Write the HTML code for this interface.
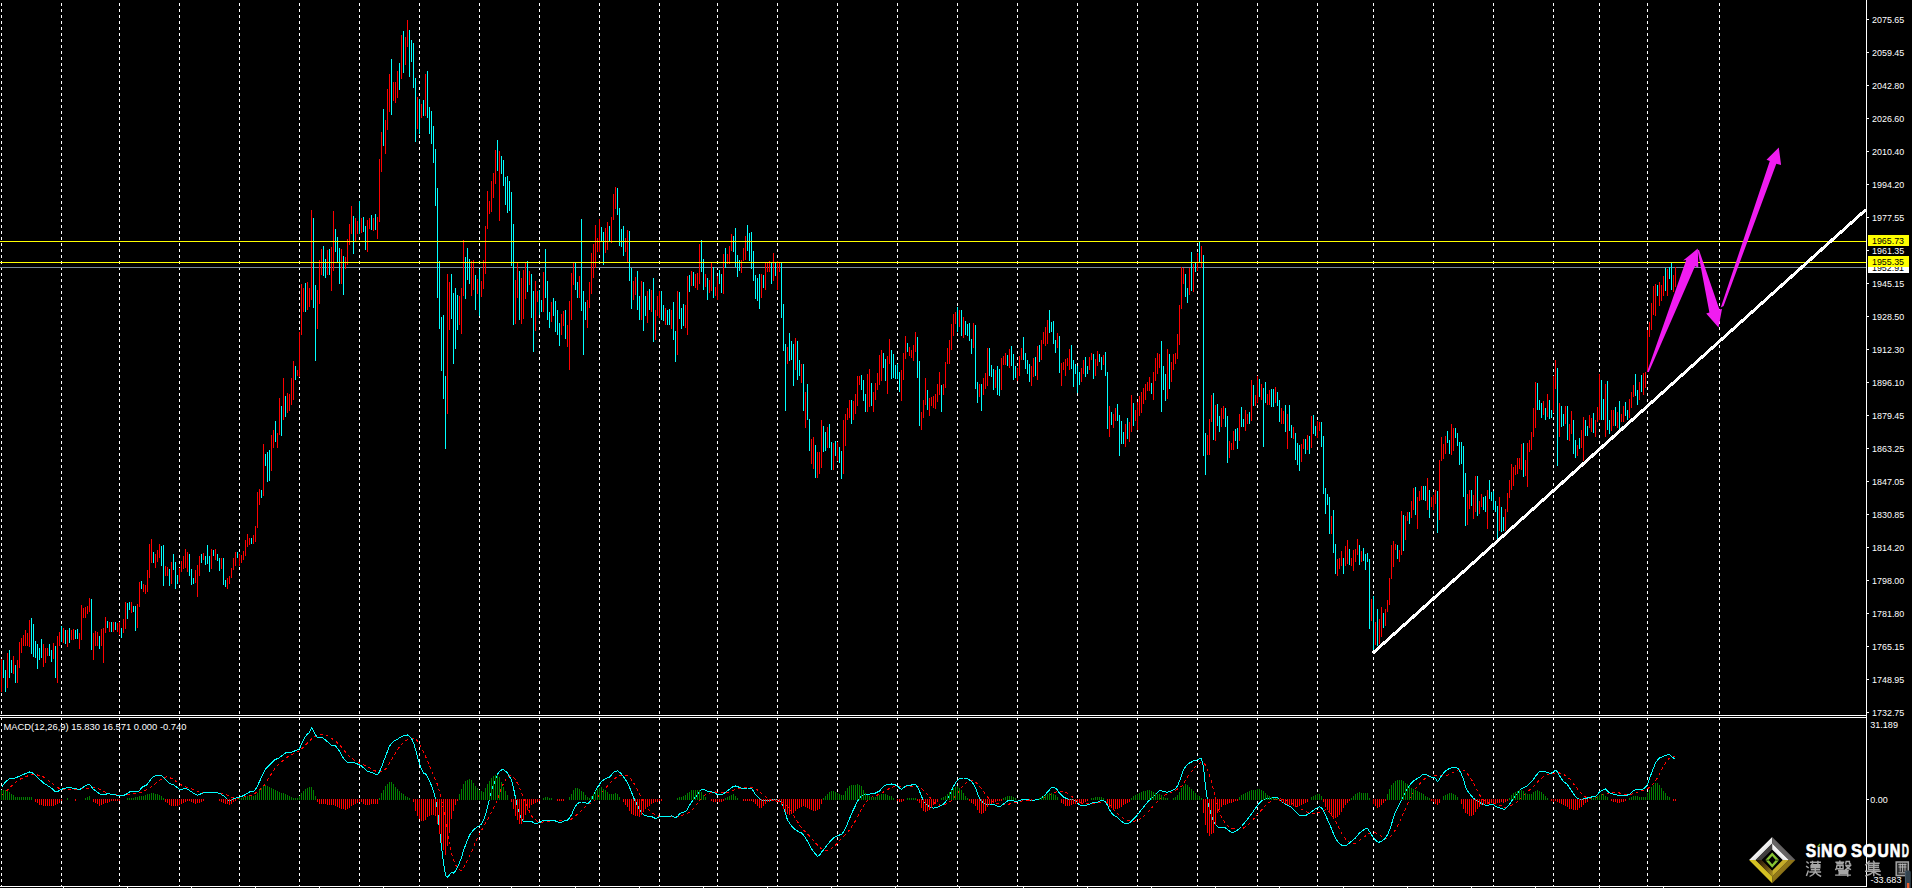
<!DOCTYPE html><html><head><meta charset="utf-8"><title>chart</title><style>
html,body{margin:0;padding:0;background:#000;}body{width:1914px;height:888px;overflow:hidden;font-family:"Liberation Sans",sans-serif;}svg{display:block}text{font-family:"Liberation Sans",sans-serif;}
</style></head><body>
<svg width="1914" height="888" viewBox="0 0 1914 888">
<rect width="1914" height="888" fill="#000"/>
<g shape-rendering="crispEdges" fill="none">
<path d="M1.5 3V886M61.5 3V886M119.5 3V886M179.5 3V886M239.5 3V886M299.5 3V886M359.5 3V886M419.5 3V886M479.5 3V886M539.5 3V886M599.5 3V886M659.5 3V886M717.5 3V886M777.5 3V886M837.5 3V886M897.5 3V886M957.5 3V886M1017.5 3V886M1077.5 3V886M1137.5 3V886M1197.5 3V886M1257.5 3V886M1317.5 3V886M1373.5 3V886M1433.5 3V886M1493.5 3V886M1553.5 3V886M1599.5 3V886M1647.5 3V886M1719.5 3V886" stroke="#ffffff" stroke-width="1" stroke-dasharray="3 3"/>
</g>
<rect x="0" y="267" width="1867" height="1" fill="#7a8a9a" shape-rendering="crispEdges"/>
<g shape-rendering="crispEdges" fill="none" stroke-width="1">
<path d="M1.5 659V692M7.5 653V688M13.5 656V674M17.5 660V683M19.5 642V668M21.5 638V653M23.5 635V646M25.5 630V646M27.5 633V646M29.5 620V647M43.5 644V667M45.5 648V663M47.5 648V656M53.5 643V659M57.5 636V683M59.5 632V646M63.5 628V643M67.5 630V647M71.5 630V640M73.5 629V640M79.5 633V649M81.5 605V640M83.5 608V618M85.5 607V618M87.5 606V614M89.5 598V612M93.5 633V660M95.5 631V646M97.5 632V646M101.5 629V646M103.5 628V663M105.5 617V633M109.5 622V632M113.5 622V632M117.5 623V632M119.5 622V635M123.5 619V633M125.5 602V629M131.5 602V613M137.5 604V628M139.5 582V607M143.5 584V592M145.5 585V594M147.5 570V592M149.5 544V578M151.5 539V563M155.5 554V568M157.5 550V562M159.5 544V558M165.5 566V576M167.5 567V576M171.5 562V584M179.5 568V582M181.5 561V572M183.5 556V569M185.5 549V568M187.5 552V572M195.5 570V583M197.5 565V597M199.5 556V576M203.5 553V560M211.5 549V569M215.5 549V560M221.5 558V569M227.5 578V589M229.5 576V584M231.5 568V578M233.5 558V570M235.5 552V566M239.5 554V566M241.5 555V563M243.5 551V560M245.5 540V556M247.5 534V547M249.5 538V545M253.5 535V544M255.5 526V542M257.5 492V528M259.5 489V505M263.5 444V496M271.5 435V471M273.5 430V448M277.5 433V448M279.5 398V435M283.5 378V420M287.5 393V413M289.5 394V411M291.5 378V405M293.5 361V400M297.5 370V376M299.5 332V377M301.5 284V335M303.5 288V312M307.5 282V310M309.5 288V307M311.5 210V300M317.5 290V329M319.5 260V304M321.5 249V275M327.5 250V275M331.5 247V291M333.5 211V271M341.5 249V284M345.5 257V269M347.5 239V265M349.5 224V245M351.5 206V234M355.5 218V241M357.5 221V234M361.5 218V233M367.5 220V252M369.5 218V229M373.5 218V231M377.5 217V239M379.5 159V222M381.5 132V172M385.5 120V154M387.5 89V130M389.5 74V112M393.5 82V101M395.5 82V103M397.5 71V98M401.5 35V79M405.5 37V65M407.5 20V47M417.5 97V129M421.5 104V118M425.5 74V116M447.5 274V414M449.5 282V330M459.5 296V325M461.5 288V334M463.5 240V296M471.5 261V296M473.5 260V290M477.5 279V294M481.5 281V297M483.5 260V289M485.5 226V274M487.5 191V229M489.5 201V214M491.5 181V212M493.5 173V198M495.5 150V184M499.5 151V221M515.5 280V324M517.5 263V298M521.5 278V324M523.5 270V319M525.5 263V299M529.5 271V285M535.5 281V331M537.5 291V302M543.5 272V312M551.5 302V322M561.5 314V335M563.5 311V326M567.5 325V347M569.5 301V370M571.5 273V320M573.5 263V285M579.5 276V298M587.5 300V328M589.5 282V308M591.5 253V294M593.5 244V278M595.5 225V268M597.5 238V252M599.5 219V252M605.5 228V253M607.5 222V250M611.5 217V243M613.5 194V220M615.5 187V209M625.5 238V252M627.5 230V262M633.5 281V300M635.5 277V295M641.5 281V320M647.5 291V323M651.5 290V312M655.5 310V340M657.5 296V316M659.5 291V318M665.5 308V325M671.5 310V329M677.5 291V355M685.5 305V328M687.5 276V335M691.5 271V286M695.5 274V288M697.5 273V290M699.5 244V284M705.5 274V287M709.5 280V293M711.5 263V291M715.5 287V296M717.5 276V300M723.5 254V294M727.5 254V264M729.5 246V264M731.5 234V251M741.5 260V273M743.5 248V261M745.5 236V260M761.5 274V298M765.5 263V290M767.5 263V272M769.5 261V272M773.5 253V281M777.5 261V290M779.5 262V272M787.5 347V364M795.5 338V370M801.5 364V383M805.5 392V428M811.5 439V464M813.5 437V469M817.5 452V478M819.5 452V474M821.5 420V468M827.5 427V448M833.5 443V470M837.5 442V461M843.5 420V474M845.5 414V446M847.5 408V420M849.5 400V418M853.5 401V420M855.5 394V414M857.5 376V406M859.5 376V385M867.5 374V412M869.5 369V407M873.5 392V412M875.5 383V400M877.5 373V390M879.5 355V385M881.5 350V381M887.5 356V394M889.5 339V364M901.5 370V401M903.5 353V380M905.5 336V359M909.5 347V356M911.5 350V358M913.5 345V361M915.5 332V352M921.5 412V430M923.5 400V418M925.5 378V405M929.5 398V416M931.5 397V406M933.5 396V408M935.5 394V409M937.5 384V402M939.5 372V395M943.5 384V395M945.5 362V388M947.5 348V364M949.5 340V364M951.5 324V350M953.5 314V336M955.5 312V324M959.5 310V327M963.5 317V338M973.5 323V348M979.5 384V397M983.5 378V395M985.5 373V389M987.5 348V386M995.5 370V388M1001.5 358V390M1003.5 356V365M1005.5 353V365M1009.5 349V368M1017.5 368V381M1019.5 356V376M1021.5 348V360M1031.5 366V386M1033.5 358V377M1037.5 346V380M1041.5 340V360M1043.5 332V344M1045.5 327V346M1047.5 320V344M1057.5 333V348M1061.5 363V386M1063.5 362V370M1065.5 359V376M1067.5 358V366M1069.5 349V370M1081.5 368V382M1083.5 360V374M1089.5 357V370M1091.5 353V360M1095.5 359V376M1097.5 351V366M1103.5 355V365M1109.5 406V437M1113.5 414V428M1115.5 408V421M1125.5 424V447M1129.5 422V442M1131.5 395V432M1135.5 410V421M1137.5 402V430M1139.5 396V416M1141.5 392V413M1143.5 388V404M1145.5 384V400M1147.5 382V391M1149.5 377V391M1153.5 372V400M1155.5 358V381M1157.5 353V374M1159.5 354V368M1167.5 349V399M1171.5 362V382M1173.5 354V370M1175.5 353V364M1177.5 334V359M1179.5 305V345M1181.5 267V309M1183.5 268V284M1189.5 268V295M1193.5 264V292M1197.5 253V271M1201.5 246V268M1207.5 435V455M1209.5 419V455M1211.5 395V422M1215.5 405V441M1221.5 408V427M1223.5 406V419M1229.5 441V458M1231.5 443V450M1233.5 431V450M1239.5 414V441M1245.5 410V431M1247.5 414V424M1251.5 380V421M1255.5 395V406M1257.5 376V403M1261.5 384V400M1267.5 394V405M1269.5 390V405M1275.5 387V403M1281.5 408V424M1283.5 411V424M1287.5 414V449M1293.5 427V439M1301.5 444V462M1303.5 439V449M1307.5 435V450M1311.5 416V448M1317.5 421V438M1319.5 422V431M1331.5 516V534M1337.5 559V576M1339.5 558V569M1341.5 551V566M1345.5 546V566M1347.5 540V564M1351.5 558V566M1353.5 550V571M1355.5 549V562M1357.5 539V555M1361.5 551V562M1371.5 599V621M1375.5 622V645M1379.5 619V644M1381.5 607V637M1385.5 609V626M1387.5 600V612M1389.5 578V605M1391.5 545V579M1393.5 541V567M1395.5 544V550M1399.5 550V562M1401.5 511V555M1405.5 516V540M1407.5 512V521M1411.5 501V518M1413.5 488V510M1417.5 497V529M1419.5 491V501M1421.5 486V500M1427.5 478V510M1431.5 497V507M1433.5 495V510M1435.5 490V504M1439.5 460V520M1441.5 437V461M1443.5 444V459M1445.5 436V454M1451.5 424V455M1453.5 428V451M1467.5 494V525M1469.5 490V509M1473.5 495V519M1475.5 476V512M1479.5 501V514M1481.5 494V507M1487.5 490V529M1499.5 497V531M1505.5 509V531M1507.5 493V512M1509.5 480V498M1511.5 464V490M1513.5 467V486M1515.5 465V475M1517.5 458V474M1519.5 458V469M1521.5 444V470M1525.5 460V476M1527.5 443V487M1529.5 440V452M1531.5 432V450M1533.5 408V437M1535.5 382V428M1543.5 401V415M1547.5 394V417M1553.5 376V413M1555.5 360V389M1559.5 403V437M1565.5 406V424M1569.5 424V441M1571.5 411V434M1577.5 445V456M1581.5 430V448M1583.5 417V461M1589.5 415V428M1591.5 418V432M1595.5 420V437M1597.5 407V422M1599.5 374V420M1605.5 384V437M1611.5 410V431M1613.5 410V426M1617.5 412V428M1621.5 414V422M1623.5 406V422M1629.5 399V418M1631.5 392V408M1633.5 385V397M1639.5 382V400M1643.5 373V395M1645.5 372V388M1647.5 330V372M1649.5 322V337M1651.5 303V330M1653.5 286V315M1655.5 284V316M1659.5 282V306M1661.5 285V301M1663.5 276V296M1667.5 269V296M1673.5 275V292M1675.5 267V287" stroke="#ff0000"/>
<path d="M3.5 660V678M5.5 670V692M9.5 650V678M11.5 660V673M15.5 665V683M31.5 618V654M33.5 624V657M35.5 641V658M37.5 644V669M39.5 648V660M41.5 639V658M49.5 644V656M51.5 650V662M55.5 646V678M61.5 626V642M65.5 630V644M69.5 628V643M75.5 630V639M77.5 629V639M91.5 599V650M99.5 636V649M107.5 621V628M111.5 622V632M115.5 622V630M121.5 628V638M127.5 603V619M129.5 602V610M133.5 606V612M135.5 606V631M141.5 581V589M153.5 552V563M161.5 546V566M163.5 545V586M169.5 569V586M173.5 554V570M175.5 562V589M177.5 575V584M189.5 554V576M191.5 569V585M193.5 578V584M201.5 554V563M205.5 556V565M207.5 545V564M209.5 556V572M213.5 550V556M217.5 554V561M219.5 558V571M223.5 558V585M225.5 580V587M237.5 552V558M251.5 538V544M261.5 490V498M265.5 454V466M267.5 452V482M269.5 450V481M275.5 421V442M281.5 406V436M285.5 396V417M295.5 366V380M305.5 283V312M313.5 218V308M315.5 285V361M323.5 246V276M325.5 259V278M329.5 249V275M335.5 229V252M337.5 237V262M339.5 248V284M343.5 256V295M353.5 216V254M359.5 201V234M363.5 217V232M365.5 226V250M371.5 215V230M375.5 214V230M383.5 109V146M391.5 59V115M399.5 63V90M403.5 31V73M409.5 30V77M411.5 40V62M413.5 43V88M415.5 78V142M419.5 99V134M423.5 100V116M427.5 71V118M429.5 107V134M431.5 111V144M433.5 126V163M435.5 149V206M437.5 188V298M439.5 261V329M441.5 317V371M443.5 315V399M445.5 376V449M451.5 274V319M453.5 293V364M455.5 288V349M457.5 295V330M465.5 257V299M467.5 248V280M469.5 259V284M475.5 275V310M479.5 269V316M497.5 140V171M501.5 156V174M503.5 160V186M505.5 177V205M507.5 176V213M509.5 181V211M511.5 192V266M513.5 224V325M519.5 271V320M527.5 261V292M531.5 274V318M533.5 291V352M539.5 290V315M541.5 300V312M545.5 249V298M547.5 281V320M549.5 312V328M553.5 298V316M555.5 301V332M557.5 310V335M559.5 323V346M565.5 310V339M575.5 263V290M577.5 282V298M581.5 219V311M583.5 291V355M585.5 302V320M601.5 227V242M603.5 232V265M609.5 226V241M617.5 188V215M619.5 208V246M621.5 229V247M623.5 226V256M629.5 231V281M631.5 268V309M637.5 271V310M639.5 296V320M643.5 282V331M645.5 296V316M649.5 289V310M653.5 278V342M661.5 291V320M663.5 305V321M667.5 310V325M669.5 309V325M673.5 302V340M675.5 331V362M679.5 292V319M681.5 308V329M683.5 304V326M689.5 275V292M693.5 272V286M701.5 240V272M703.5 259V290M707.5 278V300M713.5 267V298M719.5 270V284M721.5 274V293M725.5 248V268M733.5 236V252M735.5 228V267M737.5 255V277M739.5 260V271M747.5 225V251M749.5 233V261M751.5 232V269M753.5 251V281M755.5 275V299M757.5 278V301M759.5 274V309M763.5 275V288M771.5 262V284M775.5 262V276M781.5 262V318M783.5 304V351M785.5 344V411M789.5 333V361M791.5 341V360M793.5 344V386M797.5 341V380M799.5 360V376M803.5 364V411M807.5 384V420M809.5 419V451M815.5 445V478M823.5 426V452M825.5 432V451M829.5 424V448M831.5 442V470M835.5 441V456M839.5 447V463M841.5 451V479M851.5 400V424M861.5 375V390M863.5 380V401M865.5 394V412M871.5 383V406M883.5 353V368M885.5 359V381M891.5 350V379M893.5 354V378M895.5 365V379M897.5 364V379M899.5 372V392M907.5 343V352M917.5 337V378M919.5 361V426M927.5 390V410M941.5 385V412M957.5 307V332M961.5 310V336M965.5 321V335M967.5 324V336M969.5 323V341M971.5 339V354M975.5 325V389M977.5 382V403M981.5 384V411M989.5 348V376M991.5 365V377M993.5 369V390M997.5 366V395M999.5 369V396M1007.5 355V366M1011.5 346V366M1013.5 354V380M1015.5 366V378M1023.5 337V360M1025.5 353V369M1027.5 360V374M1029.5 364V382M1035.5 357V376M1039.5 345V362M1049.5 310V333M1051.5 322V332M1053.5 321V344M1055.5 340V353M1059.5 336V373M1071.5 345V369M1073.5 360V387M1075.5 364V374M1077.5 366V393M1079.5 372V385M1085.5 357V377M1087.5 366V374M1093.5 354V379M1099.5 354V362M1101.5 357V370M1105.5 352V376M1107.5 372V429M1111.5 412V425M1117.5 404V421M1119.5 415V456M1121.5 421V444M1123.5 432V444M1127.5 418V439M1133.5 403V426M1151.5 383V394M1161.5 341V412M1163.5 366V390M1165.5 374V401M1169.5 354V389M1185.5 274V297M1187.5 288V303M1191.5 252V291M1195.5 262V272M1199.5 242V262M1203.5 255V456M1205.5 433V475M1213.5 393V440M1217.5 404V426M1219.5 416V432M1225.5 408V427M1227.5 416V463M1235.5 429V441M1237.5 428V449M1241.5 407V427M1243.5 419V427M1249.5 412V424M1253.5 385V406M1259.5 379V397M1263.5 388V447M1265.5 382V403M1271.5 389V407M1273.5 389V407M1277.5 392V406M1279.5 400V422M1285.5 405V432M1289.5 405V431M1291.5 425V438M1295.5 433V460M1297.5 443V465M1299.5 445V471M1305.5 439V454M1309.5 436V454M1313.5 415V434M1315.5 426V436M1321.5 422V447M1323.5 436V494M1325.5 488V514M1327.5 494V505M1329.5 497V534M1333.5 510V553M1335.5 544V574M1343.5 558V574M1349.5 549V565M1359.5 545V565M1363.5 548V561M1365.5 554V570M1367.5 553V562M1369.5 559V629M1373.5 596V650M1377.5 609V646M1383.5 613V628M1397.5 545V559M1403.5 515V551M1409.5 512V524M1415.5 487V515M1423.5 486V500M1425.5 486V501M1429.5 490V518M1437.5 491V533M1447.5 431V443M1449.5 440V454M1455.5 428V438M1457.5 433V446M1459.5 442V465M1461.5 442V464M1463.5 446V497M1465.5 473V526M1471.5 490V506M1477.5 476V516M1483.5 497V510M1485.5 496V512M1489.5 480V499M1491.5 492V501M1493.5 491V510M1495.5 501V512M1497.5 506V539M1501.5 507V532M1503.5 517V531M1523.5 443V477M1537.5 383V410M1539.5 400V410M1541.5 403V418M1545.5 408V420M1549.5 400V419M1551.5 410V418M1557.5 368V466M1561.5 406V427M1563.5 414V426M1567.5 406V440M1573.5 420V454M1575.5 440V458M1579.5 438V449M1585.5 420V436M1587.5 426V436M1593.5 413V433M1601.5 380V420M1603.5 399V420M1607.5 381V430M1609.5 420V434M1615.5 407V426M1619.5 401V429M1625.5 402V416M1627.5 410V420M1635.5 374V396M1637.5 390V405M1641.5 375V392M1657.5 285V296M1665.5 268V291M1669.5 267V279M1671.5 263V290" stroke="#00ffff"/>
</g>
<g shape-rendering="crispEdges">
<rect x="0" y="241" width="1867" height="1" fill="#ffff00"/>
<rect x="0" y="262" width="1867" height="1" fill="#ffff00"/>
</g>
<line x1="1372.6" y1="653.3" x2="1866" y2="209.5" stroke="#fff" stroke-width="3" shape-rendering="crispEdges"/>
<g fill="#f01cf0" shape-rendering="geometricPrecision">
<polygon points="1647,372 1686.2,260 1683.1,260.6 1697.8,248.6 1698.3,267.5 1695,266.2 1648.8,372"/>
<polygon points="1697.6,250 1709.4,312.5 1706.2,313.6 1718.5,327.4 1722,309 1719.4,309.6 1699,250"/>
<polygon points="1720.8,307.5 1769.8,161 1766.5,159.8 1778.8,147.4 1781.1,165 1776.3,163.7 1723.6,306"/>
</g>
<g shape-rendering="crispEdges" fill="#fff">
<rect x="0" y="715" width="1867" height="1"/>
<rect x="0" y="717" width="1867" height="1"/>
<rect x="0" y="886" width="1867" height="1"/>
<rect x="1866" y="0" width="1" height="887"/>
<rect x="63" y="887" width="1" height="1"/>
<rect x="127" y="887" width="1" height="1"/>
<rect x="191" y="887" width="1" height="1"/>
<rect x="255" y="887" width="1" height="1"/>
<rect x="319" y="887" width="1" height="1"/>
<rect x="383" y="887" width="1" height="1"/>
<rect x="447" y="887" width="1" height="1"/>
<rect x="511" y="887" width="1" height="1"/>
<rect x="575" y="887" width="1" height="1"/>
<rect x="639" y="887" width="1" height="1"/>
<rect x="703" y="887" width="1" height="1"/>
<rect x="767" y="887" width="1" height="1"/>
<rect x="831" y="887" width="1" height="1"/>
<rect x="895" y="887" width="1" height="1"/>
<rect x="959" y="887" width="1" height="1"/>
<rect x="1023" y="887" width="1" height="1"/>
<rect x="1087" y="887" width="1" height="1"/>
<rect x="1151" y="887" width="1" height="1"/>
<rect x="1215" y="887" width="1" height="1"/>
<rect x="1279" y="887" width="1" height="1"/>
<rect x="1343" y="887" width="1" height="1"/>
<rect x="1407" y="887" width="1" height="1"/>
<rect x="1471" y="887" width="1" height="1"/>
<rect x="1535" y="887" width="1" height="1"/>
<rect x="1599" y="887" width="1" height="1"/>
<rect x="1663" y="887" width="1" height="1"/>
<rect x="1867" y="19" width="2" height="1"/>
<rect x="1867" y="52" width="2" height="1"/>
<rect x="1867" y="85" width="2" height="1"/>
<rect x="1867" y="118" width="2" height="1"/>
<rect x="1867" y="151" width="2" height="1"/>
<rect x="1867" y="184" width="2" height="1"/>
<rect x="1867" y="217" width="2" height="1"/>
<rect x="1867" y="250" width="2" height="1"/>
<rect x="1867" y="283" width="2" height="1"/>
<rect x="1867" y="316" width="2" height="1"/>
<rect x="1867" y="349" width="2" height="1"/>
<rect x="1867" y="382" width="2" height="1"/>
<rect x="1867" y="415" width="2" height="1"/>
<rect x="1867" y="448" width="2" height="1"/>
<rect x="1867" y="481" width="2" height="1"/>
<rect x="1867" y="514" width="2" height="1"/>
<rect x="1867" y="547" width="2" height="1"/>
<rect x="1867" y="580" width="2" height="1"/>
<rect x="1867" y="613" width="2" height="1"/>
<rect x="1867" y="646" width="2" height="1"/>
<rect x="1867" y="679" width="2" height="1"/>
<rect x="1867" y="712" width="2" height="1"/>
<rect x="1867" y="799" width="2" height="1"/>
</g>
<g font-size="9.5px" fill="#fff">
<text x="1872" y="22.8" textLength="32.3" lengthAdjust="spacingAndGlyphs">2075.65</text>
<text x="1872" y="55.8" textLength="32.3" lengthAdjust="spacingAndGlyphs">2059.45</text>
<text x="1872" y="88.8" textLength="32.3" lengthAdjust="spacingAndGlyphs">2042.80</text>
<text x="1872" y="121.8" textLength="32.3" lengthAdjust="spacingAndGlyphs">2026.60</text>
<text x="1872" y="154.8" textLength="32.3" lengthAdjust="spacingAndGlyphs">2010.40</text>
<text x="1872" y="187.8" textLength="32.3" lengthAdjust="spacingAndGlyphs">1994.20</text>
<text x="1872" y="220.8" textLength="32.3" lengthAdjust="spacingAndGlyphs">1977.55</text>
<text x="1872" y="253.8" textLength="32.3" lengthAdjust="spacingAndGlyphs">1961.35</text>
<text x="1872" y="286.8" textLength="32.3" lengthAdjust="spacingAndGlyphs">1945.15</text>
<text x="1872" y="319.8" textLength="32.3" lengthAdjust="spacingAndGlyphs">1928.50</text>
<text x="1872" y="352.8" textLength="32.3" lengthAdjust="spacingAndGlyphs">1912.30</text>
<text x="1872" y="385.8" textLength="32.3" lengthAdjust="spacingAndGlyphs">1896.10</text>
<text x="1872" y="418.8" textLength="32.3" lengthAdjust="spacingAndGlyphs">1879.45</text>
<text x="1872" y="451.8" textLength="32.3" lengthAdjust="spacingAndGlyphs">1863.25</text>
<text x="1872" y="484.8" textLength="32.3" lengthAdjust="spacingAndGlyphs">1847.05</text>
<text x="1872" y="517.8" textLength="32.3" lengthAdjust="spacingAndGlyphs">1830.85</text>
<text x="1872" y="550.8" textLength="32.3" lengthAdjust="spacingAndGlyphs">1814.20</text>
<text x="1872" y="583.8" textLength="32.3" lengthAdjust="spacingAndGlyphs">1798.00</text>
<text x="1872" y="616.8" textLength="32.3" lengthAdjust="spacingAndGlyphs">1781.80</text>
<text x="1872" y="649.8" textLength="32.3" lengthAdjust="spacingAndGlyphs">1765.15</text>
<text x="1872" y="682.8" textLength="32.3" lengthAdjust="spacingAndGlyphs">1748.95</text>
<text x="1872" y="715.8" textLength="32.3" lengthAdjust="spacingAndGlyphs">1732.75</text>
<text x="1870.2" y="727.6" textLength="27.8" lengthAdjust="spacingAndGlyphs">31.189</text>
<text x="1870.2" y="802.7" textLength="17.5" lengthAdjust="spacingAndGlyphs">0.00</text>
<text x="1870.5" y="883.3" textLength="31" lengthAdjust="spacingAndGlyphs">-33.683</text>
</g>
<g shape-rendering="crispEdges">
<rect x="1868" y="262" width="41" height="11" fill="#fff"/>
</g>
<text x="1872" y="271" font-size="9px" fill="#000" textLength="32" lengthAdjust="spacingAndGlyphs">1952.91</text>
<g shape-rendering="crispEdges">
<rect x="1868" y="235" width="41" height="11" fill="#ffff00"/>
<rect x="1868" y="256" width="41" height="11" fill="#ffff00"/>
</g>
<g font-size="9px" fill="#000">
<text x="1872" y="244.2" textLength="32" lengthAdjust="spacingAndGlyphs">1965.73</text>
<text x="1872" y="265.2" textLength="32" lengthAdjust="spacingAndGlyphs">1955.35</text>
</g>
<g fill="none" stroke-width="1" stroke-linejoin="round" shape-rendering="crispEdges">
<path d="M1.5 795.1 L3.5 793.4 L5.5 791.7 L7.5 789.9 L9.5 787.9 L11.5 785.9 L13.5 784.1 L15.5 782.4 L17.5 780.8 L19.5 779.5 L21.5 778.5 L23.5 777.5 L25.5 776.7 L27.5 776.0 L29.5 775.3 L31.5 775.0 L33.5 774.9 L35.5 774.7 L37.5 775.0 L39.5 775.4 L41.5 775.9 L43.5 776.9 L45.5 778.3 L47.5 779.6 L49.5 781.2 L51.5 782.8 L53.5 784.5 L55.5 785.9 L57.5 787.3 L59.5 788.6 L61.5 789.2 L63.5 789.5 L65.5 789.9 L67.5 789.7 L69.5 789.4 L71.5 789.0 L73.5 789.0 L75.5 789.0 L77.5 789.0 L79.5 789.0 L81.5 788.8 L83.5 788.6 L85.5 788.4 L87.5 788.2 L89.5 787.9 L91.5 787.6 L93.5 787.8 L95.5 788.1 L97.5 788.3 L99.5 789.3 L101.5 790.4 L103.5 791.4 L105.5 792.3 L107.5 793.1 L109.5 793.9 L111.5 794.2 L113.5 794.6 L115.5 794.9 L117.5 795.1 L119.5 795.3 L121.5 795.5 L123.5 795.3 L125.5 795.1 L127.5 794.9 L129.5 794.6 L131.5 794.3 L133.5 793.9 L135.5 793.6 L137.5 793.3 L139.5 792.9 L141.5 792.1 L143.5 791.2 L145.5 790.3 L147.5 789.2 L149.5 788.1 L151.5 786.9 L153.5 785.2 L155.5 783.6 L157.5 781.9 L159.5 780.4 L161.5 779.0 L163.5 777.6 L165.5 777.2 L167.5 776.8 L169.5 777.4 L171.5 778.5 L173.5 779.6 L175.5 781.0 L177.5 782.4 L179.5 783.9 L181.5 785.0 L183.5 785.8 L185.5 786.7 L187.5 787.4 L189.5 788.1 L191.5 788.8 L193.5 789.6 L195.5 790.4 L197.5 791.3 L199.5 791.9 L201.5 792.4 L203.5 792.8 L205.5 792.9 L207.5 792.9 L209.5 792.9 L211.5 792.9 L213.5 792.9 L215.5 792.9 L217.5 792.9 L219.5 793.0 L221.5 793.4 L223.5 793.7 L225.5 794.2 L227.5 795.2 L229.5 796.2 L231.5 797.0 L233.5 797.8 L235.5 798.2 L237.5 798.1 L239.5 798.0 L241.5 797.7 L243.5 797.2 L245.5 796.6 L247.5 796.1 L249.5 795.7 L251.5 795.2 L253.5 794.4 L255.5 793.0 L257.5 791.7 L259.5 790.0 L261.5 788.0 L263.5 786.0 L265.5 783.4 L267.5 780.1 L269.5 776.8 L271.5 773.6 L273.5 770.6 L275.5 767.6 L277.5 765.3 L279.5 763.6 L281.5 761.9 L283.5 760.3 L285.5 758.6 L287.5 756.9 L289.5 755.6 L291.5 754.6 L293.5 753.6 L295.5 752.6 L297.5 751.6 L299.5 750.6 L301.5 749.0 L303.5 747.0 L305.5 745.0 L307.5 743.0 L309.5 741.0 L311.5 739.0 L313.5 737.5 L315.5 736.1 L317.5 734.8 L319.5 734.3 L321.5 734.1 L323.5 734.0 L325.5 734.8 L327.5 735.9 L329.5 737.0 L331.5 738.3 L333.5 739.6 L335.5 741.0 L337.5 742.8 L339.5 744.8 L341.5 746.8 L343.5 749.3 L345.5 752.0 L347.5 754.6 L349.5 756.4 L351.5 757.9 L353.5 759.5 L355.5 760.7 L357.5 761.8 L359.5 763.0 L361.5 763.9 L363.5 764.7 L365.5 765.6 L367.5 766.7 L369.5 767.8 L371.5 769.0 L373.5 770.0 L375.5 771.0 L377.5 772.0 L379.5 771.8 L381.5 771.2 L383.5 770.1 L385.5 769.0 L387.5 766.7 L389.5 763.2 L391.5 759.8 L393.5 756.4 L395.5 753.0 L397.5 749.7 L399.5 746.9 L401.5 744.6 L403.5 742.3 L405.5 740.7 L407.5 739.5 L409.5 738.4 L411.5 738.0 L413.5 738.2 L415.5 738.7 L417.5 741.2 L419.5 743.9 L421.5 747.9 L423.5 751.9 L425.5 756.3 L427.5 760.7 L429.5 765.4 L431.5 770.2 L433.5 775.0 L435.5 779.8 L437.5 784.6 L439.5 791.7 L441.5 800.0 L443.5 809.3 L445.5 820.6 L447.5 832.6 L449.5 844.6 L451.5 852.8 L453.5 859.8 L455.5 864.5 L457.5 868.5 L459.5 869.8 L461.5 870.3 L463.5 867.6 L465.5 864.1 L467.5 860.2 L469.5 856.2 L471.5 851.9 L473.5 847.1 L475.5 842.3 L477.5 838.2 L479.5 834.2 L481.5 830.5 L483.5 826.9 L485.5 823.3 L487.5 819.6 L489.5 816.0 L491.5 812.2 L493.5 808.2 L495.5 804.2 L497.5 799.3 L499.5 793.3 L501.5 787.3 L503.5 783.6 L505.5 780.0 L507.5 777.3 L509.5 775.8 L511.5 775.8 L513.5 777.3 L515.5 779.8 L517.5 783.3 L519.5 787.5 L521.5 792.5 L523.5 797.4 L525.5 802.2 L527.5 807.0 L529.5 811.5 L531.5 815.9 L533.5 817.9 L535.5 819.9 L537.5 821.1 L539.5 821.7 L541.5 822.3 L543.5 822.0 L545.5 821.6 L547.5 821.3 L549.5 821.1 L551.5 820.9 L553.5 820.7 L555.5 820.7 L557.5 820.7 L559.5 820.7 L561.5 820.7 L563.5 820.7 L565.5 820.6 L567.5 820.2 L569.5 819.7 L571.5 819.0 L573.5 817.5 L575.5 816.0 L577.5 814.3 L579.5 812.3 L581.5 810.3 L583.5 808.4 L585.5 806.5 L587.5 804.7 L589.5 803.6 L591.5 802.8 L593.5 801.7 L595.5 799.5 L597.5 797.3 L599.5 795.0 L601.5 792.6 L603.5 790.3 L605.5 788.1 L607.5 785.9 L609.5 783.7 L611.5 781.5 L613.5 779.5 L615.5 777.9 L617.5 776.3 L619.5 775.7 L621.5 775.3 L623.5 775.2 L625.5 775.4 L627.5 775.6 L629.5 777.6 L631.5 779.8 L633.5 782.6 L635.5 786.2 L637.5 789.8 L639.5 793.7 L641.5 797.7 L643.5 801.6 L645.5 805.2 L647.5 808.8 L649.5 810.6 L651.5 812.5 L653.5 813.9 L655.5 814.8 L657.5 815.8 L659.5 816.2 L661.5 816.6 L663.5 816.8 L665.5 816.8 L667.5 816.8 L669.5 816.8 L671.5 816.8 L673.5 816.8 L675.5 816.6 L677.5 816.2 L679.5 815.9 L681.5 815.4 L683.5 814.7 L685.5 814.0 L687.5 813.2 L689.5 812.2 L691.5 811.0 L693.5 808.4 L695.5 805.7 L697.5 803.3 L699.5 800.9 L701.5 798.5 L703.5 796.5 L705.5 794.8 L707.5 794.0 L709.5 793.2 L711.5 792.7 L713.5 792.4 L715.5 792.0 L717.5 792.2 L719.5 792.5 L721.5 792.9 L723.5 792.9 L725.5 792.9 L727.5 792.7 L729.5 791.9 L731.5 791.1 L733.5 790.3 L735.5 789.5 L737.5 788.8 L739.5 788.4 L741.5 788.0 L743.5 787.9 L745.5 787.7 L747.5 787.6 L749.5 787.7 L751.5 787.8 L753.5 788.0 L755.5 788.8 L757.5 789.8 L759.5 791.9 L761.5 793.7 L763.5 795.2 L765.5 796.7 L767.5 798.2 L769.5 799.2 L771.5 799.9 L773.5 800.6 L775.5 801.0 L777.5 801.2 L779.5 801.4 L781.5 802.1 L783.5 803.3 L785.5 804.4 L787.5 806.3 L789.5 808.7 L791.5 811.2 L793.5 814.8 L795.5 818.4 L797.5 821.8 L799.5 825.0 L801.5 828.0 L803.5 830.0 L805.5 832.0 L807.5 834.0 L809.5 836.0 L811.5 838.1 L813.5 840.5 L815.5 842.9 L817.5 845.1 L819.5 847.3 L821.5 848.7 L823.5 849.8 L825.5 850.8 L827.5 850.5 L829.5 849.6 L831.5 848.7 L833.5 847.0 L835.5 845.0 L837.5 842.9 L839.5 840.7 L841.5 838.5 L843.5 836.6 L845.5 834.8 L847.5 832.7 L849.5 829.9 L851.5 827.1 L853.5 824.0 L855.5 820.8 L857.5 817.3 L859.5 813.3 L861.5 809.3 L863.5 806.0 L865.5 802.8 L867.5 800.3 L869.5 798.7 L871.5 797.1 L873.5 796.3 L875.5 795.6 L877.5 795.0 L879.5 794.0 L881.5 793.0 L883.5 792.0 L885.5 790.8 L887.5 789.6 L889.5 788.4 L891.5 787.6 L893.5 786.8 L895.5 786.0 L897.5 786.0 L899.5 786.0 L901.5 786.0 L903.5 786.3 L905.5 786.7 L907.5 787.0 L909.5 786.8 L911.5 786.6 L913.5 786.4 L915.5 786.6 L917.5 786.8 L919.5 787.1 L921.5 788.8 L923.5 790.5 L925.5 792.2 L927.5 794.6 L929.5 797.0 L931.5 799.4 L933.5 801.8 L935.5 803.9 L937.5 804.5 L939.5 805.0 L941.5 805.4 L943.5 804.8 L945.5 804.3 L947.5 803.6 L949.5 802.0 L951.5 800.4 L953.5 798.2 L955.5 795.8 L957.5 793.3 L959.5 790.5 L961.5 787.7 L963.5 785.4 L965.5 783.2 L967.5 781.5 L969.5 780.9 L971.5 780.4 L973.5 780.5 L975.5 782.1 L977.5 783.7 L979.5 786.1 L981.5 788.6 L983.5 791.3 L985.5 794.2 L987.5 797.0 L989.5 799.0 L991.5 800.7 L993.5 802.1 L995.5 802.8 L997.5 803.4 L999.5 804.0 L1001.5 804.3 L1003.5 804.6 L1005.5 804.7 L1007.5 804.4 L1009.5 804.0 L1011.5 803.6 L1013.5 803.1 L1015.5 802.6 L1017.5 802.1 L1019.5 801.6 L1021.5 801.1 L1023.5 800.8 L1025.5 800.6 L1027.5 800.4 L1029.5 800.3 L1031.5 800.3 L1033.5 800.3 L1035.5 800.0 L1037.5 799.6 L1039.5 799.1 L1041.5 798.5 L1043.5 797.9 L1045.5 797.2 L1047.5 796.3 L1049.5 795.1 L1051.5 794.0 L1053.5 793.0 L1055.5 792.2 L1057.5 791.3 L1059.5 791.1 L1061.5 791.3 L1063.5 791.5 L1065.5 792.2 L1067.5 793.4 L1069.5 794.5 L1071.5 796.2 L1073.5 798.2 L1075.5 800.1 L1077.5 801.3 L1079.5 802.5 L1081.5 803.1 L1083.5 803.4 L1085.5 803.8 L1087.5 803.9 L1089.5 803.9 L1091.5 803.9 L1093.5 803.6 L1095.5 803.3 L1097.5 802.9 L1099.5 802.5 L1101.5 802.1 L1103.5 801.6 L1105.5 802.2 L1107.5 803.2 L1109.5 804.5 L1111.5 806.9 L1113.5 809.3 L1115.5 811.4 L1117.5 813.4 L1119.5 815.4 L1121.5 816.9 L1123.5 818.2 L1125.5 819.5 L1127.5 820.2 L1129.5 820.7 L1131.5 821.3 L1133.5 821.2 L1135.5 821.0 L1137.5 820.8 L1139.5 819.5 L1141.5 817.9 L1143.5 816.2 L1145.5 814.6 L1147.5 812.6 L1149.5 810.2 L1151.5 807.9 L1153.5 805.7 L1155.5 803.7 L1157.5 801.7 L1159.5 799.7 L1161.5 797.7 L1163.5 795.7 L1165.5 794.5 L1167.5 793.9 L1169.5 793.2 L1171.5 792.3 L1173.5 791.3 L1175.5 790.3 L1177.5 789.1 L1179.5 787.8 L1181.5 786.4 L1183.5 783.8 L1185.5 780.5 L1187.5 777.1 L1189.5 774.2 L1191.5 771.4 L1193.5 768.7 L1195.5 766.7 L1197.5 764.7 L1199.5 763.4 L1201.5 762.4 L1203.5 763.3 L1205.5 764.8 L1207.5 769.2 L1209.5 774.7 L1211.5 782.1 L1213.5 790.1 L1215.5 798.1 L1217.5 805.7 L1219.5 812.4 L1221.5 817.0 L1223.5 820.6 L1225.5 823.4 L1227.5 825.7 L1229.5 827.1 L1231.5 828.5 L1233.5 828.8 L1235.5 829.0 L1237.5 829.2 L1239.5 828.9 L1241.5 828.5 L1243.5 828.1 L1245.5 826.8 L1247.5 825.3 L1249.5 823.9 L1251.5 821.6 L1253.5 819.3 L1255.5 816.9 L1257.5 814.6 L1259.5 812.3 L1261.5 809.9 L1263.5 807.8 L1265.5 805.7 L1267.5 803.5 L1269.5 802.2 L1271.5 800.8 L1273.5 799.5 L1275.5 799.3 L1277.5 799.1 L1279.5 798.9 L1281.5 799.1 L1283.5 799.3 L1285.5 799.5 L1287.5 800.7 L1289.5 801.8 L1291.5 802.9 L1293.5 804.3 L1295.5 805.6 L1297.5 806.9 L1299.5 808.1 L1301.5 809.2 L1303.5 810.3 L1305.5 811.4 L1307.5 812.4 L1309.5 813.4 L1311.5 813.5 L1313.5 813.7 L1315.5 813.7 L1317.5 812.9 L1319.5 812.1 L1321.5 811.3 L1323.5 810.5 L1325.5 809.7 L1327.5 810.6 L1329.5 812.4 L1331.5 814.4 L1333.5 817.6 L1335.5 820.8 L1337.5 824.9 L1339.5 829.3 L1341.5 833.3 L1343.5 836.1 L1345.5 838.9 L1347.5 840.8 L1349.5 842.4 L1351.5 843.5 L1353.5 843.4 L1355.5 843.2 L1357.5 842.0 L1359.5 840.6 L1361.5 839.1 L1363.5 837.5 L1365.5 835.9 L1367.5 834.6 L1369.5 833.4 L1371.5 832.6 L1373.5 832.6 L1375.5 832.6 L1377.5 833.7 L1379.5 834.9 L1381.5 836.1 L1383.5 837.3 L1385.5 838.5 L1387.5 837.9 L1389.5 837.1 L1391.5 835.4 L1393.5 832.6 L1395.5 829.8 L1397.5 825.9 L1399.5 821.9 L1401.5 817.7 L1403.5 813.3 L1405.5 808.9 L1407.5 804.1 L1409.5 799.3 L1411.5 795.3 L1413.5 792.1 L1415.5 788.9 L1417.5 786.5 L1419.5 784.1 L1421.5 781.9 L1423.5 779.9 L1425.5 778.0 L1427.5 777.2 L1429.5 776.4 L1431.5 776.0 L1433.5 775.9 L1435.5 775.7 L1437.5 775.7 L1439.5 775.9 L1441.5 776.0 L1443.5 775.9 L1445.5 775.5 L1447.5 775.2 L1449.5 774.4 L1451.5 773.4 L1453.5 772.4 L1455.5 771.4 L1457.5 770.4 L1459.5 769.4 L1461.5 769.5 L1463.5 770.1 L1465.5 771.0 L1467.5 773.7 L1469.5 776.3 L1471.5 779.6 L1473.5 783.2 L1475.5 786.9 L1477.5 790.9 L1479.5 794.9 L1481.5 797.7 L1483.5 800.1 L1485.5 802.0 L1487.5 802.7 L1489.5 803.3 L1491.5 803.6 L1493.5 803.7 L1495.5 803.8 L1497.5 804.4 L1499.5 805.1 L1501.5 805.8 L1503.5 806.6 L1505.5 807.4 L1507.5 806.8 L1509.5 806.1 L1511.5 805.3 L1513.5 804.3 L1515.5 803.3 L1517.5 801.7 L1519.5 799.7 L1521.5 797.7 L1523.5 795.7 L1525.5 793.7 L1527.5 791.7 L1529.5 789.9 L1531.5 788.3 L1533.5 786.6 L1535.5 784.5 L1537.5 782.2 L1539.5 779.9 L1541.5 778.2 L1543.5 776.8 L1545.5 775.5 L1547.5 774.8 L1549.5 774.3 L1551.5 773.8 L1553.5 773.4 L1555.5 773.0 L1557.5 772.6 L1559.5 773.0 L1561.5 773.6 L1563.5 774.3 L1565.5 775.6 L1567.5 777.1 L1569.5 778.7 L1571.5 781.1 L1573.5 783.7 L1575.5 786.4 L1577.5 788.8 L1579.5 791.1 L1581.5 793.5 L1583.5 795.3 L1585.5 796.9 L1587.5 798.6 L1589.5 798.7 L1591.5 798.5 L1593.5 798.3 L1595.5 797.6 L1597.5 796.8 L1599.5 796.0 L1601.5 795.2 L1603.5 794.4 L1605.5 793.6 L1607.5 793.2 L1609.5 792.8 L1611.5 792.4 L1613.5 792.3 L1615.5 792.3 L1617.5 792.3 L1619.5 793.0 L1621.5 793.6 L1623.5 794.3 L1625.5 794.5 L1627.5 794.7 L1629.5 794.9 L1631.5 794.3 L1633.5 793.6 L1635.5 792.9 L1637.5 792.3 L1639.5 791.6 L1641.5 790.9 L1643.5 790.3 L1645.5 789.6 L1647.5 788.9 L1649.5 787.3 L1651.5 785.7 L1653.5 783.4 L1655.5 780.6 L1657.5 777.7 L1659.5 773.7 L1661.5 769.8 L1663.5 766.3 L1665.5 762.9 L1667.5 760.4 L1669.5 758.1 L1671.5 757.1 L1673.5 756.2 L1675.5 756.2" stroke="#ff0000" stroke-dasharray="3 3"/>
<path d="M1.5 787.5 L3.5 784.5 L5.5 782.1 L7.5 780.2 L9.5 778.4 L11.5 778.3 L13.5 778.2 L15.5 778.0 L17.5 777.0 L19.5 776.1 L21.5 775.2 L23.5 774.4 L25.5 773.6 L27.5 772.8 L29.5 772.0 L31.5 772.4 L33.5 773.6 L35.5 775.3 L37.5 777.3 L39.5 779.3 L41.5 781.1 L43.5 783.0 L45.5 784.3 L47.5 785.5 L49.5 786.7 L51.5 788.3 L53.5 789.9 L55.5 791.9 L57.5 791.6 L59.5 790.3 L61.5 789.4 L63.5 788.6 L65.5 788.1 L67.5 787.8 L69.5 787.7 L71.5 788.0 L73.5 788.3 L75.5 788.7 L77.5 789.1 L79.5 789.5 L81.5 788.4 L83.5 787.0 L85.5 785.7 L87.5 784.8 L89.5 784.1 L91.5 787.0 L93.5 789.4 L95.5 790.8 L97.5 792.1 L99.5 793.8 L101.5 794.8 L103.5 794.5 L105.5 794.2 L107.5 793.8 L109.5 793.8 L111.5 794.3 L113.5 794.9 L115.5 795.0 L117.5 795.2 L119.5 795.3 L121.5 795.3 L123.5 795.3 L125.5 794.7 L127.5 793.3 L129.5 792.0 L131.5 791.6 L133.5 791.2 L135.5 791.2 L137.5 791.7 L139.5 790.5 L141.5 787.7 L143.5 786.2 L145.5 785.8 L147.5 784.0 L149.5 781.0 L151.5 778.6 L153.5 776.8 L155.5 775.9 L157.5 775.6 L159.5 775.3 L161.5 775.6 L163.5 777.4 L165.5 779.3 L167.5 781.3 L169.5 783.3 L171.5 784.2 L173.5 784.6 L175.5 786.2 L177.5 787.8 L179.5 789.1 L181.5 789.3 L183.5 788.9 L185.5 788.5 L187.5 789.2 L189.5 790.5 L191.5 791.8 L193.5 793.1 L195.5 794.5 L197.5 795.3 L199.5 794.5 L201.5 793.6 L203.5 792.9 L205.5 792.9 L207.5 792.9 L209.5 792.9 L211.5 792.9 L213.5 792.9 L215.5 792.9 L217.5 792.9 L219.5 793.3 L221.5 794.5 L223.5 795.7 L225.5 797.6 L227.5 799.6 L229.5 800.6 L231.5 799.7 L233.5 798.8 L235.5 798.1 L237.5 797.7 L239.5 797.2 L241.5 796.5 L243.5 795.5 L245.5 794.4 L247.5 793.2 L249.5 792.0 L251.5 791.8 L253.5 791.6 L255.5 789.3 L257.5 786.0 L259.5 781.5 L261.5 777.2 L263.5 773.2 L265.5 769.2 L267.5 767.2 L269.5 765.2 L271.5 763.2 L273.5 761.2 L275.5 759.2 L277.5 758.8 L279.5 757.7 L281.5 756.0 L283.5 754.4 L285.5 752.9 L287.5 752.2 L289.5 752.2 L291.5 752.2 L293.5 751.4 L295.5 750.6 L297.5 749.9 L299.5 748.8 L301.5 744.1 L303.5 739.6 L305.5 736.6 L307.5 733.8 L309.5 732.6 L311.5 727.7 L313.5 730.6 L315.5 734.8 L317.5 737.5 L319.5 738.0 L321.5 737.5 L323.5 738.4 L325.5 740.0 L327.5 741.7 L329.5 743.7 L331.5 745.3 L333.5 745.3 L335.5 745.9 L337.5 748.4 L339.5 751.1 L341.5 754.7 L343.5 758.3 L345.5 760.5 L347.5 762.2 L349.5 762.4 L351.5 762.3 L353.5 762.4 L355.5 763.2 L357.5 764.0 L359.5 765.0 L361.5 766.0 L363.5 767.8 L365.5 769.8 L367.5 771.3 L369.5 771.9 L371.5 772.4 L373.5 773.2 L375.5 774.1 L377.5 775.0 L379.5 771.6 L381.5 767.1 L383.5 761.8 L385.5 756.5 L387.5 751.3 L389.5 746.2 L391.5 743.7 L393.5 741.3 L395.5 740.2 L397.5 739.2 L399.5 737.9 L401.5 736.5 L403.5 735.7 L405.5 735.2 L407.5 734.9 L409.5 736.5 L411.5 738.4 L413.5 742.7 L415.5 749.3 L417.5 757.1 L419.5 763.8 L421.5 769.2 L423.5 773.2 L425.5 773.9 L427.5 776.7 L429.5 780.7 L431.5 785.8 L433.5 791.3 L435.5 799.0 L437.5 810.0 L439.5 830.0 L441.5 847.1 L443.5 862.5 L445.5 875.5 L447.5 877.1 L449.5 874.8 L451.5 872.8 L453.5 873.1 L455.5 870.8 L457.5 867.1 L459.5 862.6 L461.5 857.5 L463.5 850.8 L465.5 845.2 L467.5 840.1 L469.5 835.4 L471.5 832.4 L473.5 829.7 L475.5 828.2 L477.5 826.9 L479.5 825.4 L481.5 823.9 L483.5 820.2 L485.5 814.9 L487.5 807.6 L489.5 798.5 L491.5 790.7 L493.5 785.2 L495.5 779.8 L497.5 774.4 L499.5 771.6 L501.5 770.0 L503.5 769.7 L505.5 771.3 L507.5 773.0 L509.5 776.5 L511.5 780.0 L513.5 787.9 L515.5 797.9 L517.5 807.2 L519.5 813.8 L521.5 818.9 L523.5 821.3 L525.5 821.3 L527.5 821.3 L529.5 821.3 L531.5 821.4 L533.5 822.6 L535.5 823.7 L537.5 823.2 L539.5 822.6 L541.5 821.3 L543.5 820.2 L545.5 820.4 L547.5 820.6 L549.5 820.6 L551.5 820.3 L553.5 820.2 L555.5 821.0 L557.5 821.7 L559.5 822.5 L561.5 822.1 L563.5 821.1 L565.5 820.5 L567.5 820.2 L569.5 818.1 L571.5 814.8 L573.5 810.2 L575.5 806.4 L577.5 803.6 L579.5 802.2 L581.5 802.0 L583.5 802.2 L585.5 802.9 L587.5 803.7 L589.5 802.3 L591.5 799.6 L593.5 795.1 L595.5 790.9 L597.5 787.4 L599.5 784.2 L601.5 781.5 L603.5 780.0 L605.5 778.7 L607.5 777.9 L609.5 777.2 L611.5 774.9 L613.5 772.4 L615.5 771.3 L617.5 770.8 L619.5 772.2 L621.5 774.1 L623.5 776.8 L625.5 779.7 L627.5 782.7 L629.5 787.3 L631.5 792.2 L633.5 797.5 L635.5 801.6 L637.5 805.6 L639.5 809.6 L641.5 812.7 L643.5 814.7 L645.5 815.9 L647.5 816.1 L649.5 816.3 L651.5 816.6 L653.5 817.4 L655.5 818.7 L657.5 817.7 L659.5 816.8 L661.5 816.8 L663.5 816.8 L665.5 816.8 L667.5 816.7 L669.5 816.3 L671.5 815.9 L673.5 816.5 L675.5 817.7 L677.5 816.4 L679.5 813.7 L681.5 812.9 L683.5 812.1 L685.5 811.6 L687.5 809.1 L689.5 805.4 L691.5 802.4 L693.5 799.5 L695.5 797.0 L697.5 794.5 L699.5 791.8 L701.5 789.6 L703.5 789.4 L705.5 790.1 L707.5 791.1 L709.5 791.9 L711.5 791.9 L713.5 792.2 L715.5 793.4 L717.5 794.6 L719.5 794.9 L721.5 794.9 L723.5 793.8 L725.5 792.3 L727.5 790.8 L729.5 789.3 L731.5 787.8 L733.5 786.3 L735.5 786.0 L737.5 786.4 L739.5 787.7 L741.5 788.1 L743.5 788.3 L745.5 788.2 L747.5 788.0 L749.5 788.1 L751.5 788.3 L753.5 791.2 L755.5 794.5 L757.5 796.8 L759.5 798.8 L761.5 800.1 L763.5 800.4 L765.5 800.7 L767.5 800.7 L769.5 800.4 L771.5 800.0 L773.5 799.9 L775.5 799.9 L777.5 799.9 L779.5 800.6 L781.5 802.3 L783.5 807.6 L785.5 813.7 L787.5 820.0 L789.5 823.0 L791.5 825.9 L793.5 827.9 L795.5 829.8 L797.5 831.0 L799.5 832.2 L801.5 833.0 L803.5 835.0 L805.5 837.7 L807.5 841.3 L809.5 845.3 L811.5 848.6 L813.5 851.6 L815.5 854.1 L817.5 856.4 L819.5 855.1 L821.5 852.3 L823.5 849.7 L825.5 847.2 L827.5 844.7 L829.5 842.2 L831.5 840.1 L833.5 838.1 L835.5 836.7 L837.5 835.5 L839.5 835.0 L841.5 834.7 L843.5 831.8 L845.5 828.3 L847.5 823.6 L849.5 818.6 L851.5 814.0 L853.5 809.5 L855.5 805.4 L857.5 801.4 L859.5 798.0 L861.5 795.7 L863.5 795.0 L865.5 794.7 L867.5 794.4 L869.5 794.1 L871.5 793.9 L873.5 793.5 L875.5 793.0 L877.5 792.0 L879.5 791.0 L881.5 788.6 L883.5 786.1 L885.5 785.2 L887.5 784.4 L889.5 784.2 L891.5 784.0 L893.5 784.5 L895.5 785.0 L897.5 786.3 L899.5 787.9 L901.5 789.5 L903.5 787.8 L905.5 786.3 L907.5 785.0 L909.5 785.0 L911.5 785.0 L913.5 784.7 L915.5 784.6 L917.5 787.0 L919.5 791.1 L921.5 796.3 L923.5 801.0 L925.5 803.8 L927.5 805.3 L929.5 806.6 L931.5 807.8 L933.5 808.1 L935.5 807.9 L937.5 807.2 L939.5 806.2 L941.5 805.2 L943.5 804.2 L945.5 802.1 L947.5 799.1 L949.5 795.1 L951.5 790.7 L953.5 786.3 L955.5 782.9 L957.5 780.3 L959.5 778.4 L961.5 778.2 L963.5 778.0 L965.5 778.0 L967.5 778.4 L969.5 779.9 L971.5 781.7 L973.5 784.2 L975.5 787.7 L977.5 793.7 L979.5 798.1 L981.5 801.3 L983.5 802.8 L985.5 804.0 L987.5 804.5 L989.5 804.7 L991.5 804.2 L993.5 804.2 L995.5 805.2 L997.5 806.1 L999.5 806.8 L1001.5 805.5 L1003.5 804.0 L1005.5 802.5 L1007.5 801.0 L1009.5 800.6 L1011.5 800.3 L1013.5 800.9 L1015.5 801.5 L1017.5 801.4 L1019.5 800.4 L1021.5 799.7 L1023.5 799.2 L1025.5 799.1 L1027.5 799.6 L1029.5 800.0 L1031.5 800.2 L1033.5 800.2 L1035.5 800.0 L1037.5 799.6 L1039.5 799.1 L1041.5 798.0 L1043.5 796.3 L1045.5 794.3 L1047.5 792.0 L1049.5 789.8 L1051.5 787.8 L1053.5 787.4 L1055.5 788.1 L1057.5 790.2 L1059.5 793.1 L1061.5 795.1 L1063.5 797.0 L1065.5 798.0 L1067.5 798.9 L1069.5 799.3 L1071.5 799.7 L1073.5 800.2 L1075.5 800.7 L1077.5 802.6 L1079.5 804.9 L1081.5 805.2 L1083.5 805.4 L1085.5 805.2 L1087.5 804.9 L1089.5 804.1 L1091.5 803.1 L1093.5 802.9 L1095.5 802.9 L1097.5 802.1 L1099.5 801.1 L1101.5 800.7 L1103.5 800.4 L1105.5 802.1 L1107.5 805.1 L1109.5 809.8 L1111.5 812.9 L1113.5 815.1 L1115.5 816.3 L1117.5 817.5 L1119.5 819.4 L1121.5 821.4 L1123.5 822.7 L1125.5 823.9 L1127.5 823.5 L1129.5 822.8 L1131.5 821.0 L1133.5 819.0 L1135.5 817.0 L1137.5 815.0 L1139.5 812.2 L1141.5 809.6 L1143.5 807.1 L1145.5 804.6 L1147.5 802.2 L1149.5 799.8 L1151.5 798.2 L1153.5 796.6 L1155.5 794.8 L1157.5 792.8 L1159.5 790.8 L1161.5 790.6 L1163.5 791.6 L1165.5 792.0 L1167.5 792.3 L1169.5 791.6 L1171.5 790.8 L1173.5 789.8 L1175.5 788.6 L1177.5 786.0 L1179.5 781.2 L1181.5 775.3 L1183.5 769.9 L1185.5 766.7 L1187.5 764.5 L1189.5 763.0 L1191.5 762.0 L1193.5 760.9 L1195.5 760.4 L1197.5 759.9 L1199.5 758.8 L1201.5 758.8 L1203.5 767.3 L1205.5 786.8 L1207.5 800.5 L1209.5 808.8 L1211.5 815.3 L1213.5 821.3 L1215.5 824.8 L1217.5 826.8 L1219.5 827.3 L1221.5 827.6 L1223.5 827.4 L1225.5 827.9 L1227.5 829.7 L1229.5 831.1 L1231.5 832.4 L1233.5 832.1 L1235.5 831.4 L1237.5 830.1 L1239.5 828.8 L1241.5 826.5 L1243.5 824.0 L1245.5 821.6 L1247.5 819.2 L1249.5 816.6 L1251.5 813.8 L1253.5 811.0 L1255.5 808.2 L1257.5 805.4 L1259.5 803.0 L1261.5 801.0 L1263.5 799.6 L1265.5 799.0 L1267.5 798.3 L1269.5 798.1 L1271.5 798.0 L1273.5 797.9 L1275.5 797.9 L1277.5 797.9 L1279.5 799.7 L1281.5 801.5 L1283.5 802.9 L1285.5 804.2 L1287.5 805.4 L1289.5 806.4 L1291.5 807.4 L1293.5 809.2 L1295.5 811.7 L1297.5 813.7 L1299.5 815.2 L1301.5 815.8 L1303.5 815.8 L1305.5 815.6 L1307.5 814.4 L1309.5 813.2 L1311.5 811.8 L1313.5 810.2 L1315.5 808.7 L1317.5 807.6 L1319.5 806.6 L1321.5 807.8 L1323.5 810.6 L1325.5 815.1 L1327.5 819.6 L1329.5 824.1 L1331.5 828.7 L1333.5 833.7 L1335.5 838.3 L1337.5 841.3 L1339.5 843.8 L1341.5 845.0 L1343.5 845.9 L1345.5 845.9 L1347.5 844.7 L1349.5 843.0 L1351.5 841.3 L1353.5 839.7 L1355.5 837.9 L1357.5 835.4 L1359.5 833.1 L1361.5 831.5 L1363.5 829.9 L1365.5 828.7 L1367.5 828.1 L1369.5 831.5 L1371.5 834.7 L1373.5 837.7 L1375.5 840.2 L1377.5 842.0 L1379.5 842.0 L1381.5 841.3 L1383.5 839.8 L1385.5 838.2 L1387.5 834.8 L1389.5 830.2 L1391.5 824.2 L1393.5 817.5 L1395.5 812.0 L1397.5 808.0 L1399.5 804.0 L1401.5 800.0 L1403.5 796.0 L1405.5 792.0 L1407.5 788.5 L1409.5 785.5 L1411.5 783.0 L1413.5 781.0 L1415.5 779.5 L1417.5 778.5 L1419.5 777.2 L1421.5 775.6 L1423.5 774.1 L1425.5 774.6 L1427.5 775.1 L1429.5 776.1 L1431.5 777.1 L1433.5 777.6 L1435.5 778.3 L1437.5 781.4 L1439.5 779.2 L1441.5 775.8 L1443.5 773.3 L1445.5 770.9 L1447.5 769.6 L1449.5 768.4 L1451.5 767.9 L1453.5 767.3 L1455.5 767.4 L1457.5 768.1 L1459.5 770.4 L1461.5 774.3 L1463.5 779.4 L1465.5 786.8 L1467.5 790.9 L1469.5 793.6 L1471.5 796.0 L1473.5 798.3 L1475.5 799.8 L1477.5 801.1 L1479.5 802.4 L1481.5 803.6 L1483.5 804.5 L1485.5 805.3 L1487.5 805.2 L1489.5 804.9 L1491.5 804.8 L1493.5 804.8 L1495.5 806.1 L1497.5 807.6 L1499.5 807.8 L1501.5 808.3 L1503.5 809.3 L1505.5 808.8 L1507.5 806.8 L1509.5 804.3 L1511.5 801.3 L1513.5 798.5 L1515.5 796.0 L1517.5 793.2 L1519.5 790.2 L1521.5 788.6 L1523.5 787.9 L1525.5 786.8 L1527.5 785.5 L1529.5 783.8 L1531.5 781.8 L1533.5 779.2 L1535.5 776.2 L1537.5 773.8 L1539.5 771.8 L1541.5 771.1 L1543.5 771.1 L1545.5 771.8 L1547.5 772.8 L1549.5 773.1 L1551.5 773.1 L1553.5 771.9 L1555.5 770.2 L1557.5 772.2 L1559.5 775.7 L1561.5 778.7 L1563.5 781.4 L1565.5 782.9 L1567.5 784.7 L1569.5 787.7 L1571.5 790.7 L1573.5 793.7 L1575.5 796.4 L1577.5 798.2 L1579.5 799.4 L1581.5 799.2 L1583.5 798.9 L1585.5 798.5 L1587.5 798.0 L1589.5 797.5 L1591.5 797.0 L1593.5 796.9 L1595.5 796.9 L1597.5 794.6 L1599.5 791.9 L1601.5 790.6 L1603.5 789.7 L1605.5 789.0 L1607.5 791.0 L1609.5 792.8 L1611.5 793.8 L1613.5 794.1 L1615.5 794.3 L1617.5 795.1 L1619.5 795.9 L1621.5 795.9 L1623.5 795.9 L1625.5 795.6 L1627.5 795.0 L1629.5 794.3 L1631.5 792.6 L1633.5 790.8 L1635.5 789.9 L1637.5 789.7 L1639.5 789.6 L1641.5 789.3 L1643.5 788.9 L1645.5 786.9 L1647.5 784.7 L1649.5 778.7 L1651.5 773.1 L1653.5 767.8 L1655.5 763.2 L1657.5 759.9 L1659.5 757.8 L1661.5 757.4 L1663.5 756.4 L1665.5 755.2 L1667.5 754.9 L1669.5 754.8 L1671.5 756.6 L1673.5 758.0 L1675.5 759.2" stroke="#00ffff"/>
</g>
<g shape-rendering="crispEdges" fill="none" stroke-width="1">
<path d="M1.5 790V800M3.5 790V800M5.5 790V800M7.5 791V800M9.5 792V800M11.5 794V800M13.5 795V800M15.5 797V800M17.5 797V800M19.5 797V800M21.5 797V800M23.5 797V800M25.5 797V800M27.5 797V800M29.5 797V800M31.5 797V800M67.5 798V800M85.5 798V800M87.5 797V800M89.5 796V800M127.5 798V800M129.5 798V800M131.5 798V800M133.5 798V800M135.5 797V800M137.5 797V800M139.5 796V800M141.5 796V800M143.5 796V800M145.5 795V800M147.5 794V800M149.5 794V800M151.5 793V800M153.5 793V800M155.5 794V800M157.5 794V800M159.5 795V800M161.5 796V800M163.5 798V800M239.5 798V800M241.5 798V800M243.5 797V800M245.5 797V800M247.5 796V800M249.5 796V800M251.5 796V800M253.5 796V800M255.5 795V800M257.5 793V800M259.5 790V800M261.5 788V800M263.5 786V800M265.5 785V800M267.5 786V800M269.5 787V800M271.5 788V800M273.5 789V800M275.5 790V800M277.5 791V800M279.5 792V800M281.5 793V800M283.5 793V800M285.5 794V800M287.5 795V800M289.5 796V800M291.5 797V800M293.5 798V800M295.5 798V800M297.5 798V800M299.5 796V800M301.5 793V800M303.5 791V800M305.5 789V800M307.5 788V800M309.5 787V800M311.5 787V800M313.5 790V800M315.5 796V800M379.5 798V800M381.5 793V800M383.5 790V800M385.5 786V800M387.5 784V800M389.5 782V800M391.5 782V800M393.5 784V800M395.5 787V800M397.5 789V800M399.5 791V800M401.5 793V800M403.5 794V800M405.5 796V800M407.5 797V800M409.5 798V800M459.5 794V800M461.5 789V800M463.5 784V800M465.5 781V800M467.5 780V800M469.5 779V800M471.5 780V800M473.5 783V800M475.5 786V800M477.5 788V800M479.5 790V800M481.5 791V800M483.5 792V800M485.5 788V800M487.5 784V800M489.5 781V800M491.5 778V800M493.5 776V800M495.5 775V800M497.5 775V800M499.5 777V800M501.5 782V800M503.5 787V800M505.5 791V800M507.5 795V800M543.5 798V800M545.5 797V800M547.5 797V800M549.5 798V800M551.5 798V800M569.5 797V800M571.5 794V800M573.5 790V800M575.5 788V800M577.5 788V800M579.5 789V800M581.5 791V800M583.5 792V800M585.5 795V800M587.5 797V800M589.5 798V800M591.5 796V800M593.5 794V800M595.5 791V800M597.5 789V800M599.5 788V800M601.5 787V800M603.5 789V800M605.5 790V800M607.5 792V800M609.5 794V800M611.5 794V800M613.5 794V800M615.5 793V800M617.5 794V800M619.5 797V800M677.5 798V800M679.5 797V800M681.5 797V800M683.5 796V800M685.5 795V800M687.5 793V800M689.5 792V800M691.5 790V800M693.5 790V800M695.5 790V800M697.5 790V800M699.5 790V800M701.5 792V800M703.5 795V800M705.5 797V800M725.5 798V800M727.5 797V800M729.5 796V800M731.5 795V800M733.5 794V800M735.5 796V800M737.5 798V800M823.5 798V800M825.5 796V800M827.5 794V800M829.5 792V800M831.5 791V800M833.5 791V800M835.5 792V800M837.5 793V800M839.5 794V800M841.5 795V800M843.5 795V800M845.5 791V800M847.5 788V800M849.5 786V800M851.5 785V800M853.5 785V800M855.5 785V800M857.5 784V800M859.5 785V800M861.5 786V800M863.5 790V800M865.5 793V800M867.5 795V800M869.5 796V800M871.5 797V800M873.5 797V800M875.5 797V800M877.5 796V800M879.5 795V800M881.5 794V800M883.5 794V800M885.5 794V800M887.5 795V800M889.5 796V800M891.5 796V800M893.5 798V800M907.5 798V800M909.5 798V800M911.5 798V800M913.5 798V800M915.5 798V800M941.5 798V800M943.5 797V800M945.5 796V800M947.5 794V800M949.5 792V800M951.5 790V800M953.5 788V800M955.5 787V800M957.5 786V800M959.5 788V800M961.5 790V800M963.5 793V800M965.5 796V800M967.5 798V800M1003.5 798V800M1005.5 797V800M1007.5 796V800M1009.5 796V800M1011.5 796V800M1013.5 797V800M1015.5 798V800M1039.5 798V800M1041.5 797V800M1043.5 796V800M1045.5 795V800M1047.5 794V800M1049.5 793V800M1051.5 793V800M1053.5 794V800M1055.5 795V800M1057.5 797V800M1091.5 798V800M1093.5 798V800M1095.5 797V800M1097.5 797V800M1099.5 797V800M1101.5 797V800M1103.5 798V800M1131.5 798V800M1133.5 796V800M1135.5 795V800M1137.5 794V800M1139.5 793V800M1141.5 792V800M1143.5 791V800M1145.5 791V800M1147.5 790V800M1149.5 790V800M1151.5 791V800M1153.5 792V800M1155.5 793V800M1157.5 794V800M1159.5 794V800M1161.5 795V800M1163.5 797V800M1165.5 798V800M1167.5 798V800M1173.5 798V800M1175.5 797V800M1177.5 795V800M1179.5 792V800M1181.5 788V800M1183.5 786V800M1185.5 784V800M1187.5 785V800M1189.5 787V800M1191.5 789V800M1193.5 791V800M1195.5 793V800M1197.5 795V800M1199.5 796V800M1201.5 798V800M1239.5 797V800M1241.5 795V800M1243.5 794V800M1245.5 793V800M1247.5 792V800M1249.5 791V800M1251.5 790V800M1253.5 790V800M1255.5 790V800M1257.5 789V800M1259.5 789V800M1261.5 790V800M1263.5 791V800M1265.5 793V800M1267.5 795V800M1269.5 796V800M1271.5 797V800M1273.5 798V800M1275.5 798V800M1277.5 798V800M1311.5 797V800M1313.5 796V800M1315.5 795V800M1317.5 794V800M1319.5 794V800M1321.5 796V800M1351.5 798V800M1353.5 796V800M1355.5 794V800M1357.5 793V800M1359.5 792V800M1361.5 793V800M1363.5 793V800M1365.5 793V800M1367.5 793V800M1369.5 798V800M1387.5 794V800M1389.5 789V800M1391.5 785V800M1393.5 783V800M1395.5 781V800M1397.5 780V800M1399.5 780V800M1401.5 780V800M1403.5 781V800M1405.5 783V800M1407.5 784V800M1409.5 786V800M1411.5 788V800M1413.5 789V800M1415.5 790V800M1417.5 791V800M1419.5 792V800M1421.5 793V800M1423.5 794V800M1425.5 796V800M1427.5 797V800M1429.5 798V800M1443.5 796V800M1445.5 795V800M1447.5 794V800M1449.5 793V800M1451.5 793V800M1453.5 794V800M1455.5 795V800M1457.5 797V800M1509.5 798V800M1511.5 795V800M1513.5 793V800M1515.5 792V800M1517.5 791V800M1519.5 790V800M1521.5 790V800M1523.5 791V800M1525.5 793V800M1527.5 794V800M1529.5 794V800M1531.5 794V800M1533.5 792V800M1535.5 791V800M1537.5 790V800M1539.5 791V800M1541.5 792V800M1543.5 794V800M1545.5 796V800M1547.5 798V800M1591.5 798V800M1593.5 798V800M1595.5 797V800M1597.5 796V800M1599.5 795V800M1601.5 794V800M1603.5 794V800M1605.5 796V800M1607.5 797V800M1629.5 798V800M1631.5 797V800M1633.5 796V800M1635.5 796V800M1637.5 796V800M1639.5 797V800M1641.5 797V800M1643.5 797V800M1645.5 797V800M1647.5 793V800M1649.5 790V800M1651.5 787V800M1653.5 785V800M1655.5 783V800M1657.5 783V800M1659.5 785V800M1661.5 788V800M1663.5 791V800M1665.5 793V800M1667.5 796V800M1669.5 797V800" stroke="#008000"/>
<path d="M35.5 799V802M37.5 799V803M39.5 799V805M41.5 799V805M43.5 799V806M45.5 799V806M47.5 799V806M49.5 799V806M51.5 799V806M53.5 799V806M55.5 799V805M57.5 799V804M59.5 799V803M61.5 799V801M75.5 799V801M93.5 799V802M95.5 799V803M97.5 799V804M99.5 799V806M101.5 799V805M103.5 799V804M105.5 799V803M107.5 799V803M109.5 799V802M111.5 799V801M113.5 799V801M115.5 799V801M117.5 799V801M119.5 799V801M165.5 799V802M167.5 799V803M169.5 799V805M171.5 799V806M173.5 799V806M175.5 799V806M177.5 799V806M179.5 799V805M181.5 799V804M183.5 799V803M185.5 799V802M187.5 799V801M189.5 799V801M191.5 799V802M193.5 799V803M195.5 799V804M197.5 799V803M199.5 799V803M201.5 799V802M203.5 799V801M219.5 799V801M221.5 799V802M223.5 799V803M225.5 799V804M227.5 799V804M229.5 799V805M231.5 799V804M233.5 799V802M235.5 799V801M317.5 799V802M319.5 799V804M321.5 799V804M323.5 799V804M325.5 799V804M327.5 799V805M329.5 799V805M331.5 799V805M333.5 799V805M335.5 799V806M337.5 799V807M339.5 799V808M341.5 799V809M343.5 799V809M345.5 799V810M347.5 799V809M349.5 799V808M351.5 799V806M353.5 799V805M355.5 799V804M357.5 799V803M359.5 799V802M361.5 799V802M363.5 799V804M365.5 799V805M367.5 799V805M369.5 799V805M371.5 799V804M373.5 799V804M375.5 799V804M377.5 799V804M413.5 799V802M415.5 799V811M417.5 799V816M419.5 799V819M421.5 799V821M423.5 799V821M425.5 799V820M427.5 799V817M429.5 799V816M431.5 799V815M433.5 799V815M435.5 799V816M437.5 799V824M439.5 799V834M441.5 799V843M443.5 799V850M445.5 799V855M447.5 799V846M449.5 799V833M451.5 799V819M453.5 799V811M455.5 799V805M457.5 799V801M511.5 799V802M513.5 799V809M515.5 799V816M517.5 799V820M519.5 799V824M521.5 799V824M523.5 799V820M525.5 799V815M527.5 799V810M529.5 799V808M531.5 799V805M533.5 799V804M535.5 799V803M537.5 799V802M539.5 799V801M557.5 799V801M559.5 799V801M561.5 799V801M563.5 799V801M623.5 799V802M625.5 799V805M627.5 799V807M629.5 799V811M631.5 799V814M633.5 799V815M635.5 799V816M637.5 799V816M639.5 799V817M641.5 799V815M643.5 799V812M645.5 799V809M647.5 799V807M649.5 799V806M651.5 799V804M653.5 799V803M655.5 799V802M657.5 799V802M659.5 799V801M661.5 799V801M711.5 799V801M713.5 799V802M715.5 799V802M717.5 799V802M719.5 799V802M721.5 799V802M723.5 799V801M743.5 799V801M745.5 799V801M747.5 799V801M749.5 799V801M751.5 799V801M753.5 799V802M755.5 799V804M757.5 799V806M759.5 799V808M761.5 799V808M763.5 799V806M765.5 799V804M767.5 799V802M769.5 799V802M771.5 799V801M773.5 799V801M775.5 799V801M777.5 799V801M779.5 799V802M781.5 799V805M783.5 799V809M785.5 799V812M787.5 799V814M789.5 799V815M791.5 799V814M793.5 799V813M795.5 799V811M797.5 799V809M799.5 799V808M801.5 799V807M803.5 799V806M805.5 799V807M807.5 799V808M809.5 799V809M811.5 799V810M813.5 799V811M815.5 799V811M817.5 799V810M819.5 799V809M821.5 799V804M897.5 799V801M899.5 799V802M901.5 799V802M903.5 799V801M917.5 799V801M919.5 799V803M921.5 799V808M923.5 799V811M925.5 799V812M927.5 799V811M929.5 799V810M931.5 799V808M933.5 799V805M935.5 799V804M937.5 799V802M969.5 799V801M971.5 799V803M973.5 799V804M975.5 799V806M977.5 799V810M979.5 799V813M981.5 799V814M983.5 799V813M985.5 799V811M987.5 799V807M989.5 799V805M991.5 799V804M993.5 799V803M995.5 799V802M997.5 799V801M999.5 799V801M1001.5 799V801M1029.5 799V801M1031.5 799V801M1061.5 799V803M1063.5 799V804M1065.5 799V806M1067.5 799V806M1069.5 799V806M1071.5 799V805M1073.5 799V804M1075.5 799V804M1077.5 799V803M1079.5 799V803M1081.5 799V803M1083.5 799V803M1085.5 799V802M1087.5 799V801M1107.5 799V804M1109.5 799V807M1111.5 799V808M1113.5 799V810M1115.5 799V809M1117.5 799V809M1119.5 799V808M1121.5 799V807M1123.5 799V805M1125.5 799V804M1127.5 799V803M1129.5 799V802M1203.5 799V813M1205.5 799V825M1207.5 799V833M1209.5 799V836M1211.5 799V834M1213.5 799V833M1215.5 799V825M1217.5 799V813M1219.5 799V810M1221.5 799V807M1223.5 799V805M1225.5 799V805M1227.5 799V804M1229.5 799V803M1231.5 799V803M1233.5 799V802M1235.5 799V801M1237.5 799V801M1279.5 799V801M1281.5 799V802M1283.5 799V803M1285.5 799V804M1287.5 799V805M1289.5 799V805M1291.5 799V805M1293.5 799V806M1295.5 799V807M1297.5 799V807M1299.5 799V806M1301.5 799V805M1303.5 799V804M1305.5 799V803M1307.5 799V802M1323.5 799V802M1325.5 799V807M1327.5 799V810M1329.5 799V813M1331.5 799V816M1333.5 799V817M1335.5 799V818M1337.5 799V817M1339.5 799V815M1341.5 799V812M1343.5 799V808M1345.5 799V805M1347.5 799V803M1349.5 799V801M1373.5 799V804M1375.5 799V806M1377.5 799V808M1379.5 799V807M1381.5 799V805M1383.5 799V803M1385.5 799V801M1431.5 799V801M1433.5 799V802M1435.5 799V804M1437.5 799V805M1439.5 799V803M1461.5 799V804M1463.5 799V809M1465.5 799V813M1467.5 799V814M1469.5 799V816M1471.5 799V816M1473.5 799V815M1475.5 799V812M1477.5 799V809M1479.5 799V807M1481.5 799V805M1483.5 799V805M1485.5 799V804M1487.5 799V804M1489.5 799V804M1491.5 799V803M1493.5 799V803M1495.5 799V803M1497.5 799V803M1499.5 799V803M1501.5 799V802M1503.5 799V803M1505.5 799V802M1507.5 799V801M1551.5 799V801M1553.5 799V802M1555.5 799V801M1557.5 799V802M1559.5 799V803M1561.5 799V804M1563.5 799V805M1565.5 799V806M1567.5 799V807M1569.5 799V809M1571.5 799V809M1573.5 799V810M1575.5 799V810M1577.5 799V810M1579.5 799V808M1581.5 799V807M1583.5 799V805M1585.5 799V803M1587.5 799V802M1611.5 799V801M1613.5 799V802M1615.5 799V802M1617.5 799V803M1619.5 799V803M1621.5 799V802M1623.5 799V802M1625.5 799V801M1673.5 799V801M1675.5 799V801" stroke="#ff0000"/>
</g>
<text x="3.5" y="730.4" font-size="9.5px" fill="#fff" textLength="183" lengthAdjust="spacingAndGlyphs">MACD(12,26,9) 15.830 16.571 0.000 -0.740</text>
<defs>
<linearGradient id="gTL" x1="0" y1="0" x2="1" y2="1"><stop offset="0" stop-color="#ffffff"/><stop offset="0.55" stop-color="#f2f2f2"/><stop offset="1" stop-color="#9a9a9a"/></linearGradient>
<linearGradient id="gTR" x1="1" y1="0" x2="0" y2="1"><stop offset="0" stop-color="#4a4848"/><stop offset="1" stop-color="#7c7a7a"/></linearGradient>
<linearGradient id="gTLi" x1="0" y1="0" x2="1" y2="1"><stop offset="0" stop-color="#5a5858"/><stop offset="1" stop-color="#2c2a2a"/></linearGradient>
<linearGradient id="gTRi" x1="1" y1="0" x2="0" y2="1"><stop offset="0" stop-color="#e8e8e8"/><stop offset="0.5" stop-color="#ffffff"/><stop offset="1" stop-color="#b0b0b0"/></linearGradient>
<linearGradient id="gBL" x1="0" y1="1" x2="1" y2="0"><stop offset="0" stop-color="#f0e030"/><stop offset="1" stop-color="#c0a818"/></linearGradient>
<linearGradient id="gBR" x1="1" y1="1" x2="0" y2="0"><stop offset="0" stop-color="#6e5810"/><stop offset="1" stop-color="#a88c20"/></linearGradient>
<linearGradient id="gBLi" x1="0" y1="0" x2="1" y2="1"><stop offset="0" stop-color="#1c0c04"/><stop offset="0.6" stop-color="#6a5014"/><stop offset="1" stop-color="#b09824"/></linearGradient>
<linearGradient id="gBRi" x1="1" y1="1" x2="0" y2="0"><stop offset="0" stop-color="#b89c20"/><stop offset="1" stop-color="#d0b830"/></linearGradient>
<clipPath id="logoclip"><rect x="1740" y="830" width="169.5" height="58"/></clipPath>
</defs>
<g>
<polygon fill="url(#gTL)" points="1749.1,860.1 1772.2,837.0 1772.2,843.6 1755.7,860.1"/>
<polygon fill="url(#gTR)" points="1772.2,837.0 1795.3,860.1 1788.7,860.1 1772.2,843.6"/>
<polygon fill="url(#gTLi)" points="1755.7,860.1 1772.2,843.6 1772.2,849.8 1761.9,860.1"/>
<polygon fill="url(#gTRi)" points="1772.2,843.6 1788.7,860.1 1782.5,860.1 1772.2,849.8"/>
<polygon fill="url(#gBL)" points="1749.1,860.1 1772.2,883.2 1772.2,876.6 1755.7,860.1"/>
<polygon fill="url(#gBR)" points="1795.3,860.1 1772.2,883.2 1772.2,876.6 1788.7,860.1"/>
<polygon fill="url(#gBLi)" points="1755.7,860.1 1772.2,876.6 1772.2,870.4 1761.9,860.1"/>
<polygon fill="url(#gBRi)" points="1788.7,860.1 1772.2,876.6 1772.2,870.4 1782.5,860.1"/>
<polygon fill="#000" points="1761.9,860.1 1772.2,849.8 1782.5,860.1 1772.2,870.4"/>
<path fill="#86c232" fill-rule="evenodd" d="M1765.3 860.1L1772.2 852.5L1779.1 860.1L1772.2 867.7ZM1768.6 860.1L1772.2 856.0L1775.8 860.1L1772.2 864.2Z"/>
<rect x="1764.8" y="859.75" width="3.9" height="0.7" fill="#000"/>
<rect x="1775.7" y="859.75" width="3.9" height="0.7" fill="#000"/>
</g>
<g font-weight="bold" font-size="18.4px" fill="#fff" stroke="#fff" stroke-width="0.7" stroke-linejoin="round" clip-path="url(#logoclip)">
<text x="1805.7" y="856.9" textLength="10.4" lengthAdjust="spacingAndGlyphs">S</text>
<text x="1817.2" y="856.9" textLength="2.9" lengthAdjust="spacingAndGlyphs">ı</text>
<text x="1821.1" y="856.9" textLength="11.4" lengthAdjust="spacingAndGlyphs">N</text>
<text x="1833.6" y="856.9" textLength="13.2" lengthAdjust="spacingAndGlyphs">O</text>
<text x="1850.9" y="856.9" textLength="11.0" lengthAdjust="spacingAndGlyphs">S</text>
<text x="1862.5" y="856.9" textLength="13.7" lengthAdjust="spacingAndGlyphs">O</text>
<text x="1877.4" y="856.9" textLength="11.3" lengthAdjust="spacingAndGlyphs">U</text>
<text x="1889.8" y="856.9" textLength="10.6" lengthAdjust="spacingAndGlyphs">N</text>
<text x="1901.8" y="856.9" textLength="7.2" lengthAdjust="spacingAndGlyphs">D</text>
</g>
<polygon fill="#7ab828" points="1816.9,846.5 1819.7,843.5 1820.5,844.2 1818.9,846.9"/>
<path d="M1806.40 861.50 L1808.70 863.50M1806.10 866.20 L1808.70 868.00M1808.40 870.60 L1806.40 876.10M1809.90 862.30 L1821.00 862.30M1812.50 860.70 L1812.50 863.90M1817.90 860.70 L1817.90 863.90M1811.10 864.80 L1819.80 864.80 L1819.80 867.80 L1811.10 867.80 L1811.10 864.80M1811.10 866.30 L1819.80 866.30M1815.30 863.90 L1815.30 872.50M1810.80 869.80 L1820.10 869.80M1809.30 871.90 L1821.10 871.90M1815.30 871.90 L1813.00 874.50 L1809.60 876.50M1815.30 871.90 L1817.50 874.50 L1821.10 876.50" fill="none" stroke="#a6a6a6" stroke-width="1.45" stroke-linecap="butt"/>
<path d="M1835.40 862.30 L1844.20 862.30M1839.80 860.60 L1839.80 863.70M1836.30 863.80 L1843.60 863.80M1836.80 865.40 L1843.10 865.40 L1843.10 868.80 L1836.80 868.80M1836.80 865.40 L1836.60 868.00 L1835.40 870.10M1840.00 865.40 L1840.00 868.80M1845.60 864.30 L1846.20 861.40 L1849.40 861.40 L1849.60 863.70 L1851.00 864.10M1845.20 865.50 L1850.40 865.50 L1848.00 868.10 L1845.00 869.80M1846.20 866.10 L1848.40 868.30 L1851.00 869.70M1838.00 870.40 L1848.80 870.40M1839.20 870.40 L1839.20 875.10M1847.70 870.40 L1847.70 876.70M1839.20 872.00 L1847.70 872.00M1839.20 873.50 L1847.70 873.50M1835.10 875.10 L1850.90 875.10" fill="none" stroke="#a6a6a6" stroke-width="1.45" stroke-linecap="butt"/>
<path d="M1869.70 860.80 L1867.40 863.30 L1865.30 865.30M1868.50 863.50 L1868.50 870.30M1873.20 860.70 L1874.40 862.70M1868.50 863.20 L1879.70 863.20M1868.50 865.30 L1879.10 865.30M1868.50 867.30 L1879.10 867.30M1868.50 869.40 L1879.70 869.40M1873.80 863.10 L1873.80 876.30M1865.00 871.30 L1880.80 871.30M1873.80 871.50 L1870.30 874.00 L1865.30 876.00M1873.80 871.50 L1877.30 874.00 L1880.80 875.40" fill="none" stroke="#a6a6a6" stroke-width="1.45" stroke-linecap="butt"/>
<g clip-path="url(#logoclip)">
<rect x="1896.2" y="862" width="12.2" height="13.6" fill="#555" fill-opacity="0.55" stroke="#a4a4a4" stroke-width="1.5"/>
<path d="M1898.30 864.60 L1906.50 864.60M1900.20 863.50 L1900.20 871.50M1902.60 863.50 L1902.60 872.00M1905.00 863.50 L1905.00 871.50M1898.50 867.00 L1906.50 867.00M1898.50 872.80 L1906.50 872.80" fill="none" stroke="#bdbdbd" stroke-width="0.9" stroke-linecap="butt"/>
</g>
<path d="M1905 888V872.5Q1905 870.6 1907 870.6H1909Q1910.8 870.6 1910.8 872.5V888Z" fill="#34444f"/>
<path d="M1905.4 888V872.5Q1905.4 871 1907 871" fill="none" stroke="#4c6272" stroke-width="0.8"/>
<rect x="1907" y="883" width="2.3" height="5" fill="#f05a28"/>
<rect x="1912" y="0" width="2" height="888" fill="#fff" shape-rendering="crispEdges"/>
</svg></body></html>
